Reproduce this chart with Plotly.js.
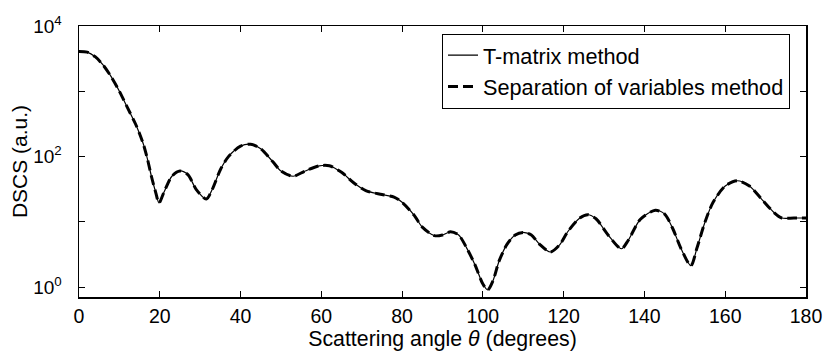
<!DOCTYPE html>
<html><head><meta charset="utf-8">
<script src="https://cdn.plot.ly/plotly-3.0.1.min.js"></script>
<style>html,body{margin:0;padding:0;background:#fff}</style>
</head><body>
<div id="chart" style="width:827px;height:353px"></div>
<script>
const angles = [0,2,4,6,8,10,12,14,15,16,17,18,19,19.8,21,23,25,27,29,31.5,33,35,37,40,42.5,45,48,50,53,56,59.5,62,65,68,71,75,78,80,83,85,88,90,92,94,96,98,100,101.2,102.5,104,106,108,110,112,114,116.7,119,121,124,126,128,131,134.3,136,139,142.7,145,147,149,151.5,153,155,157,160,163,166,169,172,174,177,180];
const dscsTmatrix = [4070,3980,3390,2510,1660,1000,562,316,224,151,89.1,47.9,28.2,19.5,28.2,50.1,60.3,52.5,31.6,22.4,31.6,63.1,100,145,155,132,83.2,60.3,50.1,60.3,72.4,72.4,57.5,39.8,30.2,26.3,24.0,20.0,12.6,8.32,6.17,6.31,7.08,6.31,3.98,2.24,1.12,0.91,1.26,2.51,4.57,6.31,6.92,6.31,4.57,3.47,4.47,7.08,11.5,12.9,11.2,6.31,3.89,5.25,11.0,15.1,13.2,7.94,3.98,2.14,3.98,10.0,20.0,35.5,42.7,35.5,22.4,14.1,11.5,11.5,11.5];
const dscsSepVar = dscsTmatrix.slice();
const xTicks = [0,20,40,60,80,100,120,140,160,180];
const yTicks = [1,10,100,1000,10000];
const yTickText = ['10<sup>0</sup>','','10<sup>2</sup>','','10<sup>4</sup>'];

const font = 'Liberation Sans, Arial, Helvetica, sans-serif';
const traces = [
  {x: angles, y: dscsTmatrix, type:'scatter', mode:'lines', name:'T-matrix method',
   line:{color:'#000', width:1.2, shape:'spline', smoothing:0.8}},
  {x: angles, y: dscsSepVar, type:'scatter', mode:'lines', name:'Separation of variables method',
   line:{color:'#000', width:3, dash:'10px,5px', shape:'spline', smoothing:0.8}}
];
const layout = {
  width:827, height:353,
  margin:{l:79, r:21, t:26, b:56},
  paper_bgcolor:'#fff', plot_bgcolor:'#fff',
  font:{family:font, color:'#000', size:19},
  showlegend:true,
  legend:{x:0.978, xanchor:'right', y:0.972, yanchor:'top', bgcolor:'#fff',
    bordercolor:'#000', borderwidth:1, font:{size:21.7, family:font}, tracegroupgap:0},
  xaxis:{range:[0,180], tickvals:xTicks, ticks:'inside', ticklen:6, tickcolor:'#000',
    showline:true, linecolor:'#000', linewidth:1.5, mirror:'allticks', showgrid:false, zeroline:false,
    tickfont:{size:19.5}, ticklabelstandoff:1,
    title:{text:'Scattering angle <i>θ</i> (degrees)', font:{size:21.3}, standoff:3}},
  yaxis:{type:'log', range:[-0.149, 4], tickvals:yTicks, ticktext:yTickText, ticks:'inside', ticklen:6,
    tickcolor:'#000', showline:true, linecolor:'#000', linewidth:1.5, mirror:'allticks', showgrid:false,
    zeroline:false, tickfont:{size:19}, ticklabelstandoff:12,
    title:{text:'DSCS (a.u.)', font:{size:21}, standoff:0}}
};
Plotly.newPlot('chart', traces, layout, {displayModeBar:false, staticPlot:true});
</script>
</body></html>
